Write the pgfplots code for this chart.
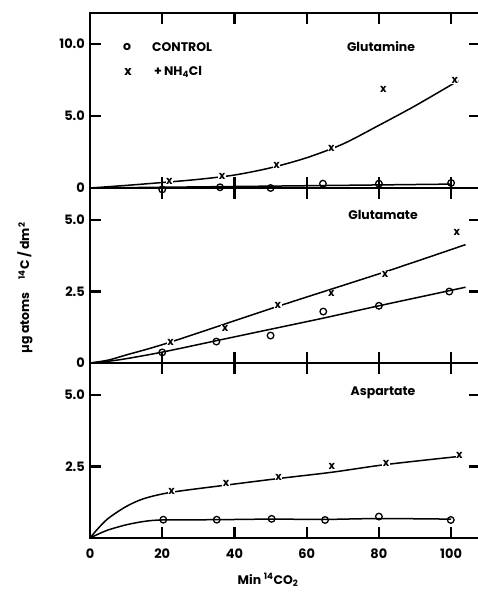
\documentclass[border=0pt]{standalone}
\usepackage{pgfplots}
\pgfplotsset{compat=1.18}
\usepackage{fontspec}
\setmainfont{Poppins}

\pgfplotsset{
	panel/.style={
		scale only axis, width=390bp, height=175bp, anchor=south west,
		xmin=0, xmax=108, clip=false,
		axis line style={line width=1.5bp},
		tick align=inside, major tick length=11bp,
		tick style={black, line width=2.2bp},
		xtick={20,40,60,80,100}, xticklabels={},
		ticklabel style={font=\bfseries\fontsize{13}{13}\selectfont},
		yticklabel style={inner sep=0pt, xshift=-5bp},
		xticklabel style={inner sep=0pt, yshift=-11bp},
	},
	curve/.style={black, line width=1.5bp, smooth, no markers},
	ctrl/.style={only marks, mark=o, mark size=3.3bp,
		mark options={line width=1.3bp, fill=white, black}},
	nh/.style={only marks, mark=text, text mark={x}, text mark as node=true,
		text mark style={font=\bfseries\fontsize{11}{11}\selectfont, fill=white, inner sep=0.5bp}},
}

\begin{document}
\begin{tikzpicture}
	% Glutamine
	\begin{axis}[panel, at={(90bp,404bp)},
			ymin=0, ymax=12.15,
			ytick={0,5,10}, yticklabels={0,5.0,10.0}]
		\addplot[curve] coordinates {(0,0) (50,0.13) (100,0.27)};
		\addplot[curve] coordinates {
			(0,0) (10,0.18) (20,0.38) (30,0.6) (40,0.9) (50,1.4) (60,2.1)
			(70,3.05) (80,4.35) (90,5.7) (102,7.45)};
		\addplot[ctrl] coordinates {
			(20,-0.1) (36,0.05) (50,0) (64.5,0.3) (80,0.3) (100,0.35)};
		\addplot[nh] coordinates {
			(22,0.45) (36.6,0.8) (51.7,1.6) (66.8,2.75) (81.2,6.85) (101,7.5)};
	\end{axis}

	% Glutamate
	\begin{axis}[panel, at={(90bp,229bp)},
			ymin=0, ymax=6.12,
			ytick={0,2.5,5}, yticklabels={0,2.5,5.0}]
		\addplot[curve] coordinates {
			(0,0) (5,0.06) (10,0.15) (20,0.38) (35,0.78) (50,1.18) (65,1.58)
			(80,2.0) (104,2.65)};
		\addplot[curve] coordinates {
			(0,0) (5,0.1) (10,0.28) (22,0.72) (52,1.98) (82,3.2) (104,4.14)};
		\addplot[ctrl] coordinates {
			(20,0.37) (35,0.75) (50,0.96) (64.6,1.8) (80,2.0) (99.5,2.5)};
		\addplot[nh] coordinates {
			(22.3,0.72) (37.4,1.22) (52,2.0) (66.8,2.44) (81.7,3.11) (101.6,4.57)};
	\end{axis}

	% Aspartate
	\begin{axis}[panel, at={(90bp,54bp)},
			ymin=0, ymax=6.12,
			ytick={2.5,5}, yticklabels={2.5,5.0},
			xtick={0,20,40,60,80,100}, xticklabels={0,20,40,60,80,100}]
		\addplot[curve] coordinates {
			(0,0) (2,0.12) (5,0.28) (10,0.46) (15,0.58) (20,0.63) (35,0.64)
			(50,0.66) (65,0.65) (80,0.68) (100,0.66)};
		\addplot[curve] coordinates {
			(0,0) (2,0.3) (5,0.68) (10,1.1) (15,1.38) (22.6,1.6) (37.7,1.85)
			(52.2,2.08) (67,2.3) (82,2.57) (102,2.85)};
		\addplot[ctrl] coordinates {
			(20.3,0.64) (35.1,0.64) (50.3,0.67) (65.1,0.63) (80,0.75) (99.9,0.63)};
		\addplot[nh] coordinates {
			(22.6,1.62) (37.7,1.91) (52.2,2.11) (67,2.49) (82,2.61) (102.3,2.87)};
	\end{axis}

	% inward ticks crossing the shared frame edges
	\foreach \x in {162.2,234.4,306.7,378.9,451.1} {
		\draw[line width=2.2bp] (\x bp,218bp) -- (\x bp,240bp);
		\draw[line width=2.2bp] (\x bp,393bp) -- (\x bp,415bp);
	}

	\begin{scope}[every node/.style={font=\bfseries\fontsize{12.5}{12.5}\selectfont, inner sep=0pt}]
		\node at (381bp,545bp) {Glutamine};
		\node at (383bp,377bp) {Glutamate};
		\node at (383bp,199bp) {Aspartate};
		\node at (127bp,545bp) {o};
		\node at (128bp,520bp) {x};
		\node[anchor=west] at (152bp,545bp) {CONTROL};
		\node[anchor=west] at (154bp,520bp) {+\,NH\textsubscript{4}Cl};
		\node at (268bp,12bp) {Min \textsuperscript{14}CO\textsubscript{2}};
		\node[rotate=90] at (25bp,304bp) {µg atoms\quad\textsuperscript{14}C / dm\textsuperscript{2}};
	\end{scope}

	\pgfresetboundingbox
	\path[use as bounding box] (0bp,0bp) rectangle (478bp,592bp);
\end{tikzpicture}
\end{document}
